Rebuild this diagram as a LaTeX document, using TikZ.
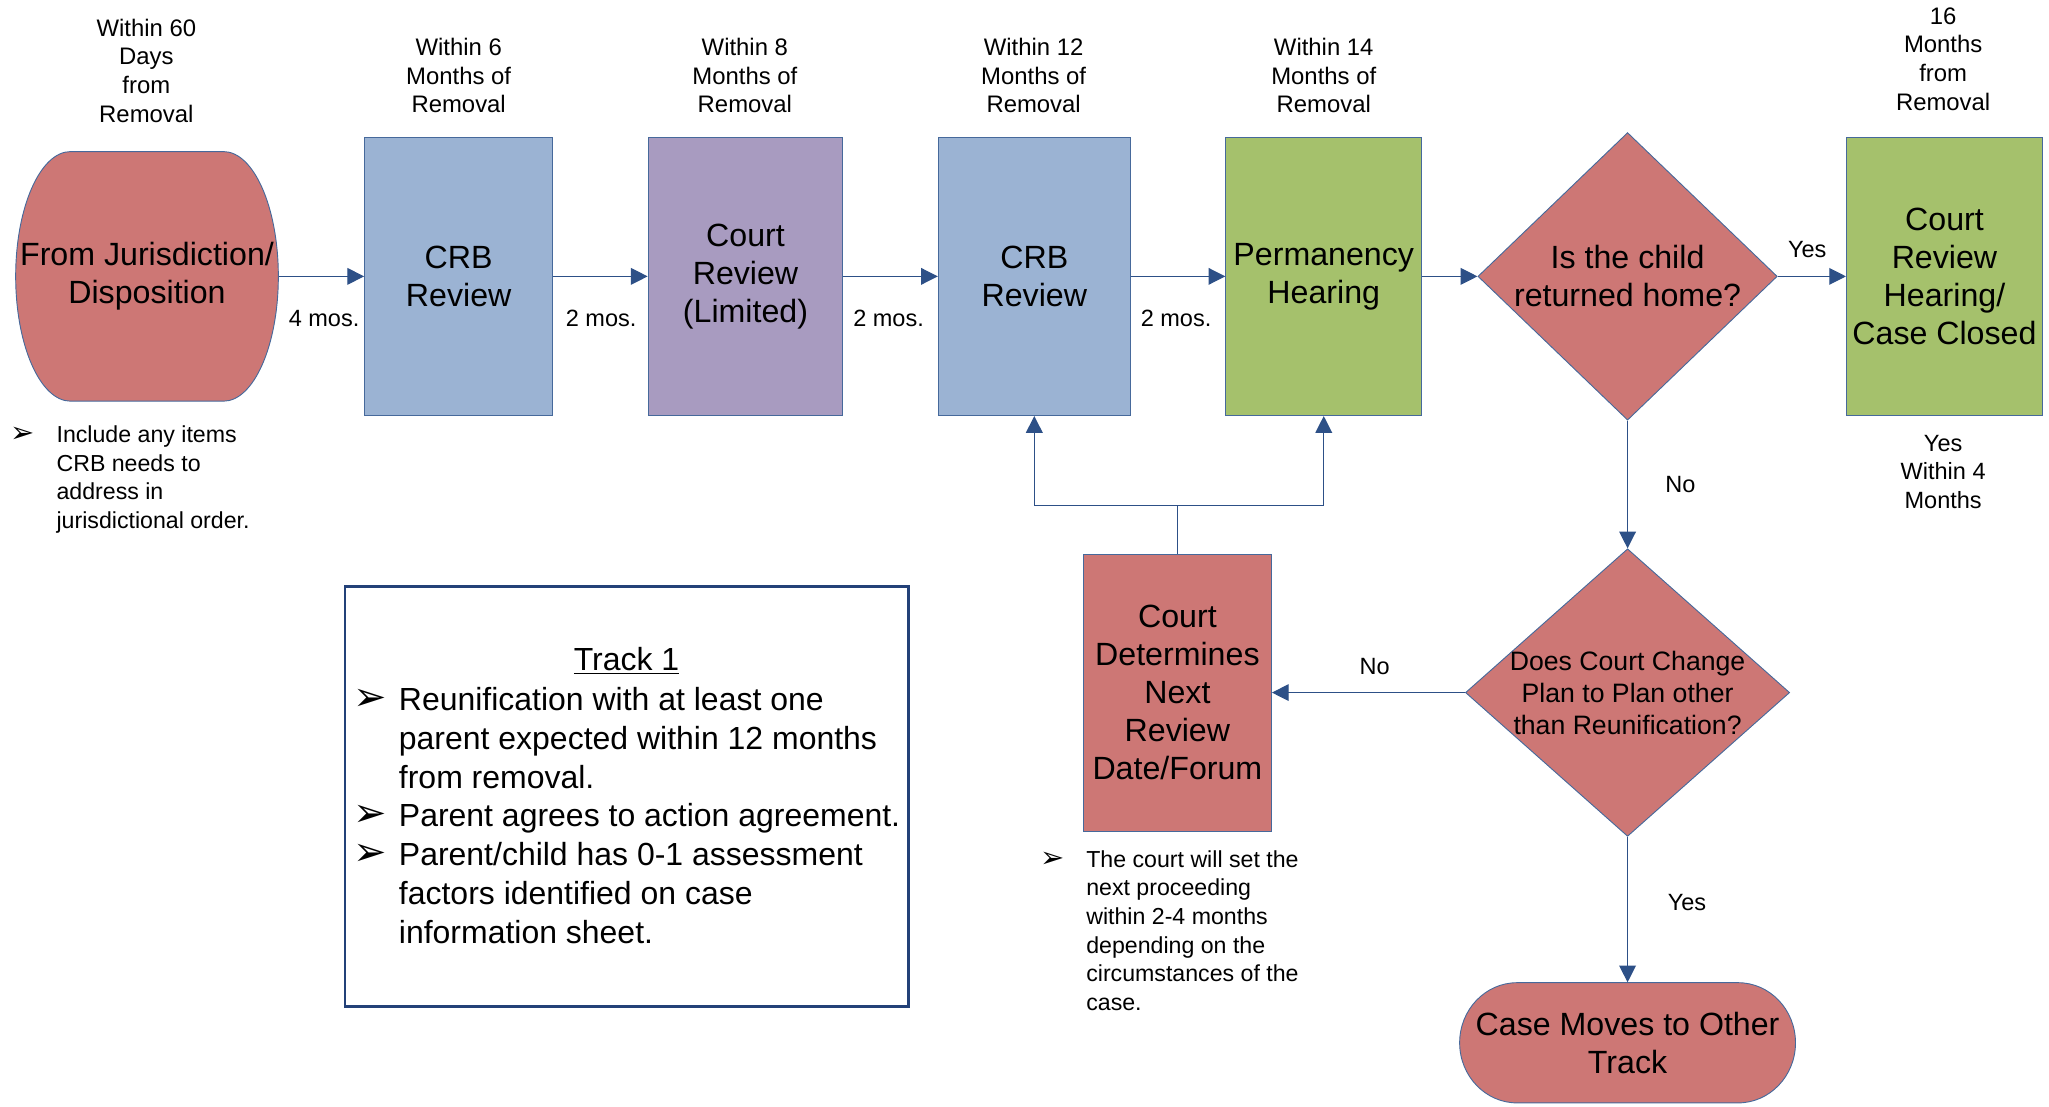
\documentclass[tikz,border=0pt]{standalone}
\usepackage{fontspec}
\setmainfont{Liberation Sans}
\newfontfamily\dingfont{DejaVu Sans}
\usepackage{tikz}
\usetikzlibrary{arrows.meta,shapes.geometric,positioning}
\usepackage{xcolor}
\definecolor{crbred}{RGB}{205,119,117}
\definecolor{crbblue}{RGB}{155,179,211}
\definecolor{crbpurple}{RGB}{168,155,192}
\definecolor{crbgreen}{RGB}{165,193,108}
\definecolor{crbedge}{RGB}{70,105,155}
\definecolor{crbline}{RGB}{45,80,135}
\definecolor{crbnavy}{RGB}{35,65,120}
\newcommand{\arrbullet}{\makebox[0.875cm][l]{\dingfont\scalebox{1.25}{➢}}}
\newcommand{\arrindent}{\hspace*{0.875cm}}
\tikzstyle{box} = [rectangle, draw=crbedge, line width=0.5pt, minimum height=5.325cm, inner sep=0pt, align=center, font=\fontsize{17.5}{20.6}\selectfont]
\tikzstyle{decision} = [diamond, draw=crbedge, fill=crbred, line width=0.5pt, inner sep=0pt, minimum height=5.5cm]
\tikzstyle{decisiontext} = [align=center, inner sep=0pt, font=\fontsize{17.5}{20.6}\selectfont]
\tikzstyle{termshape} = [draw=crbedge, fill=crbred, line width=0.5pt]
\tikzstyle{termtext} = [rectangle, inner sep=0pt, align=center, font=\fontsize{17.5}{20.6}\selectfont]
\tikzstyle{toplabel} = [align=center, inner sep=0pt, font=\fontsize{13}{15.6}\selectfont]
\tikzstyle{linklabel} = [align=center, inner sep=0pt, font=\fontsize{12.8}{15.6}\selectfont]
\tikzstyle{note} = [anchor=west, align=left, inner sep=0pt, font=\fontsize{12.6}{15.6}\selectfont]
\tikzstyle{arrow} = [draw=crbline, line width=0.6pt, -{Triangle[length=0.32cm,width=0.32cm]}]
\tikzstyle{link} = [draw=crbline, line width=0.6pt]

\begin{document}
\begin{tikzpicture}[x=0.025cm, y=-0.025cm]
\useasboundingbox (0,0) rectangle (1568,847);

% Time limits above the steps
\node[toplabel] (t60) at (112,54) {Within 60\\Days\\from\\Removal};
\node[toplabel] (t6) at (351,58) {Within 6\\Months of\\Removal};
\node[toplabel] (t8) at (570,58) {Within 8\\Months of\\Removal};
\node[toplabel] (t12) at (791,58) {Within 12\\Months of\\Removal};
\node[toplabel] (t14) at (1013,58) {Within 14\\Months of\\Removal};
\node[toplabel] (t16) at (1487,45) {16\\Months\\from\\Removal};

% Start
\draw[termshape] (54,116) -- (171,116) arc[start angle=-90, end angle=90, x radius=42, y radius=95.5] -- (54,307) arc[start angle=90, end angle=270, x radius=42, y radius=95.5] -- cycle;
\node[termtext, minimum width=5.025cm, minimum height=4.775cm] (jur) at (112.5,211.5) {From Jurisdiction/\\Disposition};

% Review steps
\node[box, fill=crbblue, minimum width=3.6cm] (crb1) at (351,211.5) {CRB\\Review};
\node[box, fill=crbpurple, minimum width=3.725cm] (court8) at (570.5,211.5) {Court\\Review\\(Limited)};
\node[box, fill=crbblue, minimum width=3.675cm] (crb2) at (791.5,211.5) {CRB\\Review};
\node[box, fill=crbgreen, minimum width=3.75cm] (perm) at (1013,211.5) {Permanency\\Hearing};
\node[decision, minimum width=5.725cm, label={[decisiontext]center:Is the child\\returned home?}] (home) at (1245.5,211.5) {};
\node[box, fill=crbgreen, minimum width=3.75cm] (closed) at (1488,211.5) {Court\\Review\\Hearing/\\Case Closed};

% Lower branch
\node[decision, minimum width=6.2cm, label={[decisiontext, font=\fontsize{14.5}{17.4}\selectfont]center:Does Court Change\\Plan to Plan other\\than Reunification?}] (plan) at (1245.5,530) {};
\node[box, fill=crbred, minimum width=3.6cm, minimum height=5.3cm] (nextdate) at (901,530) {Court\\Determines\\Next\\Review\\Date/Forum};
\draw[termshape] (1161,752) -- (1330,752) arc[start angle=-90, end angle=90, x radius=44, y radius=46] -- (1161,844) arc[start angle=90, end angle=270, x radius=44, y radius=46] -- cycle;
\node[termtext, minimum width=6.45cm, minimum height=2.3cm] (othertrack) at (1245.5,798) {Case Moves to Other\\Track};

% Connectors
\draw[arrow] (jur.east) -- (crb1.west);
\draw[arrow] (crb1.east) -- (court8.west);
\draw[arrow] (court8.east) -- (crb2.west);
\draw[arrow] (crb2.east) -- (perm.west);
\draw[arrow] (perm.east) -- (home.west);
\draw[arrow] (home.east) -- (closed.west);
\draw[arrow] (home.south) -- (plan.north);
\draw[arrow] (plan.west) -- (nextdate.east);
\draw[arrow] (plan.south) -- (othertrack.north);
\coordinate (fork) at (901,387);
\draw[link] (nextdate.north) -- (fork);
\draw[arrow] (fork) -| (crb2.south);
\draw[arrow] (fork) -| (perm.south);

% Connector labels
\node[linklabel] (mos1) at (248,244) {4 mos.};
\node[linklabel] (mos2) at (460,244) {2 mos.};
\node[linklabel] (mos3) at (680,244) {2 mos.};
\node[linklabel] (mos4) at (900,244) {2 mos.};
\node[linklabel] (yes1) at (1383,191) {Yes};
\node[linklabel] (no1) at (1286,371) {No};
\node[linklabel] (yes2) at (1487,361) {Yes\\Within 4\\Months};
\node[linklabel] (no2) at (1052,510) {No};
\node[linklabel] (yes3) at (1291,691) {Yes};

% Notes
\node[note] (jurnote) at (8,367) {\arrbullet Include any items\\\arrindent CRB needs to\\\arrindent address in\\\arrindent jurisdictional order.};
\node[note] (courtnote) at (796,712) {\arrbullet The court will set the\\\arrindent next proceeding\\\arrindent within 2-4 months\\\arrindent depending on the\\\arrindent circumstances of the\\\arrindent case.};

% Track 1 box
\node[draw=crbnavy, line width=1.5pt, minimum width=10.775cm, minimum height=8.025cm, inner sep=0pt] (trackbox) at (479.5,609.5) {};
\node[font=\fontsize{17.4}{21.1}\selectfont, inner sep=0pt] (trackhead) at (479.5,506) {\underline{Track 1}};
\node[note, font=\fontsize{17.4}{21.1}\selectfont] (trackitems) at (270,624) {\arrbullet Reunification with at least one\\\arrindent parent expected within 12 months\\\arrindent from removal.\\\arrbullet Parent agrees to action agreement.\\\arrbullet Parent/child has 0-1 assessment\\\arrindent factors identified on case\\\arrindent information sheet.};
\end{tikzpicture}
\end{document}
